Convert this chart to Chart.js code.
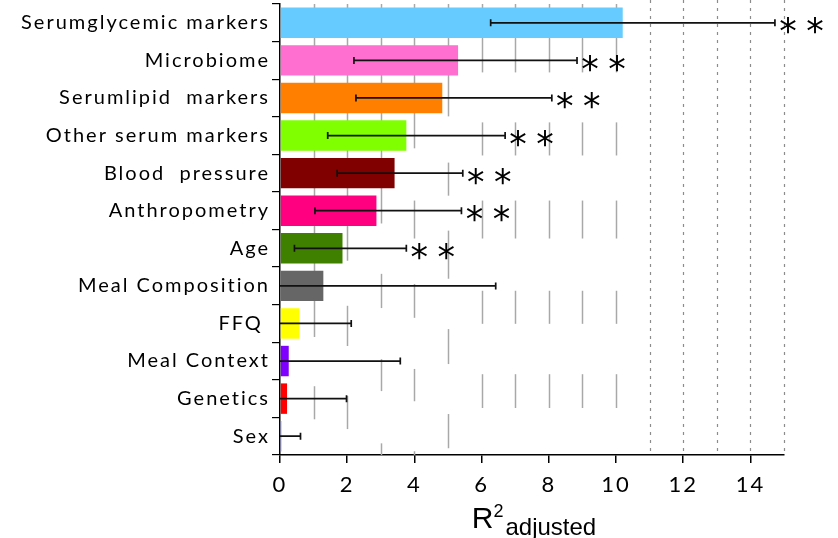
<!DOCTYPE html>
<html>
<head>
<meta charset="utf-8">
<script src="https://cdn.jsdelivr.net/npm/chart.js@4.4.1/dist/chart.umd.min.js"></script>
<style>
    body { margin: 0; background: #fff; }
    #caixa { width: 838px; height: 538px; position: relative; }
</style>
</head>
<body>
<div id="caixa"><canvas id="graficoR2"></canvas></div>
<script>
// dados
const categorias = ['Serumglycemic markers', 'Microbiome', 'Serumlipid  markers', 'Other serum markers',
    'Blood  pressure', 'Anthropometry', 'Age', 'Meal Composition', 'FFQ ', 'Meal Context', 'Genetics', 'Sex'];
const r2Ajustado = [10.20, 5.30, 4.83, 3.76, 3.41, 2.87, 1.86, 1.29, 0.58, 0.26, 0.21, 0.04];
const limiteInferior = [6.27, 2.20, 2.26, 1.42, 1.70, 1.04, 0.43, -3.8, -1.0, -3.1, -1.6, -0.5];
const limiteSuperior = [14.73, 8.84, 8.09, 6.70, 5.44, 5.40, 3.76, 6.42, 2.12, 3.58, 1.98, 0.61];
const significancia = ['**', '**', '**', '**', '**', '**', '**', '', '', '', '', ''];
const coresBarras = ['#66ccff', '#ff6fcf', '#ff8000', '#80ff00', '#800000', '#ff0080',
    '#408000', '#666666', '#ffff00', '#8000ff', '#ff0000', '#8080ff'];
const ticksX = [0, 2, 4, 6, 8, 10, 12, 14];
const linhasTracejadas = [11, 12, 13, 14, 15];
// pedaços das linhas cinzas: [valor, de (categoria), ate (categoria)]
const segmentosGrade = [
    [1, -0.5, 8.36], [1, 9.67, 10.55],
    [2, -0.5, 6.33], [2, 7.53, 8.6], [2, 9.93, 10.81],
    [3, -0.5, 5.34], [3, 6.68, 7.59], [3, 8.95, 9.8], [3, 11.19, 11.5],
    [4, -0.5, 3.34], [4, 4.73, 5.74], [4, 6.95, 7.85], [4, 9.21, 10.07], [4, 11.4, 11.5],
    [5, -0.5, 2.49], [5, 3.72, 4.6], [5, 5.53, 6.81], [5, 8.15, 9.08], [5, 10.41, 11.32],
    [6, -0.5, 1.32], [6, 2.65, 3.53], [6, 4.73, 5.74], [6, 7.13, 8.01], [6, 9.35, 10.25],
    [7, -0.5, 1.32], [7, 2.65, 3.53], [7, 4.73, 5.74], [7, 7.13, 8.01], [7, 9.35, 10.25],
    [8, -0.5, 1.32], [8, 2.65, 3.53], [8, 4.73, 5.74], [8, 7.13, 8.01], [8, 9.35, 10.25],
    [9, -0.5, 1.32], [9, 2.65, 3.53], [9, 4.73, 5.74], [9, 7.13, 8.01], [9, 9.35, 10.25],
    [10, -0.5, 1.32], [10, 2.65, 3.53], [10, 4.73, 5.74], [10, 7.13, 8.01], [10, 9.35, 10.25]
];

const pluginExtras = {
    id: 'extras',
    beforeDraw(chart) {
        // a fonte original é mais espaçada
        chart.ctx.letterSpacing = '2px';
    },
    beforeDatasetsDraw(chart) {
        const { ctx, chartArea, scales: { x, y } } = chart;
        ctx.letterSpacing = '0px';
        ctx.save();
        ctx.strokeStyle = '#a8a8a8';
        ctx.lineWidth = 1.5;
        segmentosGrade.forEach(([valor, de, ate]) => {
            const px = Math.round(x.getPixelForValue(valor)) + 0.5;
            const y1 = Math.max(y.getPixelForValue(de), 0);
            const y2 = Math.min(y.getPixelForValue(ate), chartArea.bottom);
            ctx.beginPath();
            ctx.moveTo(px, y1);
            ctx.lineTo(px, y2);
            ctx.stroke();
        });
        ctx.strokeStyle = '#8c8c8c';
        ctx.lineWidth = 1.2;
        ctx.setLineDash([3, 5]);
        linhasTracejadas.forEach(valor => {
            const px = Math.round(x.getPixelForValue(valor)) + 0.5;
            ctx.beginPath();
            ctx.moveTo(px, 0);
            ctx.lineTo(px, chartArea.bottom);
            ctx.stroke();
        });
        ctx.restore();
    },
    afterDatasetsDraw(chart) {
        const { ctx, chartArea, scales: { x, y } } = chart;
        ctx.save();
        ctx.strokeStyle = '#111';
        ctx.lineWidth = 1.7;
        ctx.fillStyle = '#000';
        ctx.font = '35px "DejaVu Sans"';
        ctx.textAlign = 'center';
        ctx.textBaseline = 'alphabetic';
        const m = ctx.measureText('*');
        const ajuste = (m.actualBoundingBoxDescent - m.actualBoundingBoxAscent) / 2;

        categorias.forEach((cat, i) => {
            const cy = y.getPixelForValue(i);
            const lo = limiteInferior[i];
            const x1 = lo >= 0 ? x.getPixelForValue(lo) : chartArea.left;
            const x2 = x.getPixelForValue(limiteSuperior[i]);
            ctx.beginPath();
            ctx.moveTo(x1, cy);
            ctx.lineTo(x2, cy);
            if (lo >= 0) {
                ctx.moveTo(x1, cy - 3.5);
                ctx.lineTo(x1, cy + 3.5);
            }
            ctx.moveTo(x2, cy - 3.5);
            ctx.lineTo(x2, cy + 3.5);
            ctx.stroke();

            if (significancia[i]) {
                const base = cy + 3 - ajuste;
                ctx.fillText('*', x2 + 13, base);
                ctx.fillText('*', x2 + 40, base);
            }
        });
        ctx.restore();
    },
    afterDraw(chart) {
        // titulo do eixo x: R^2 adjusted
        const { ctx, chartArea } = chart;
        ctx.save();
        ctx.fillStyle = '#000';
        ctx.textBaseline = 'alphabetic';
        ctx.textAlign = 'left';
        const fR = '30px "Liberation Sans"', f2 = '18px "Liberation Sans"', fAdj = '24px "Liberation Sans"';
        ctx.font = fR; const wR = ctx.measureText('R').width;
        ctx.font = f2; const w2 = ctx.measureText('2').width;
        ctx.font = fAdj; const wAdj = ctx.measureText('adjusted').width;
        const total = wR + w2 + 2 + wAdj;
        let xi = (chartArea.left + chartArea.right) / 2 + 2 - total / 2;
        ctx.font = fR; ctx.fillText('R', xi, 528);
        xi += wR;
        ctx.font = f2; ctx.fillText('2', xi, 517);
        xi += w2 + 2;
        ctx.font = fAdj; ctx.fillText('adjusted', xi, 535);
        ctx.restore();
    }
};

document.addEventListener("DOMContentLoaded", function () {
    const canvas = document.getElementById('graficoR2');
    if (!canvas) {
        console.warn("Canvas do gráfico não encontrado.");
        return;
    }

    new Chart(canvas.getContext('2d'), {
        type: 'bar',
        data: {
            labels: categorias,
            datasets: [{
                label: 'R2 adjusted',
                data: r2Ajustado,
                backgroundColor: coresBarras,
                borderWidth: 0,
                barPercentage: 0.81,
                categoryPercentage: 1
            }]
        },
        options: {
            indexAxis: 'y',
            responsive: true,
            maintainAspectRatio: false,
            animation: false,
            layout: { padding: { top: 4, right: 54, bottom: 0, left: 0 } },
            plugins: {
                legend: { display: false },
                tooltip: { enabled: false }
            },
            scales: {
                x: {
                    type: 'linear',
                    min: 0,
                    max: 15,
                    afterBuildTicks: scale => { scale.ticks = ticksX.map(v => ({ value: v })); },
                    afterFit: scale => {
                        scale.height = 83;
                        scale.paddingLeft = 0;
                        scale.paddingRight = 0;
                    },
                    border: { color: '#000', width: 1.5 },
                    grid: { drawOnChartArea: false, color: '#000', lineWidth: 1.5, tickLength: 8 },
                    ticks: {
                        color: '#000',
                        padding: 9,
                        maxRotation: 0,
                        font: { family: 'Lato', size: 22 }
                    }
                },
                y: {
                    afterFit: scale => {
                        scale.width = 280;
                        scale.paddingTop = 0;
                        scale.paddingBottom = 0;
                    },
                    border: { color: '#000', width: 1.5 },
                    grid: { drawOnChartArea: false, color: '#000', lineWidth: 1.2, tickLength: 8 },
                    ticks: {
                        color: '#000',
                        padding: 2,
                        autoSkip: false,
                        font: { family: 'Lato', size: 20 }
                    }
                }
            }
        },
        plugins: [pluginExtras]
    });
});
</script>
</body>
</html>
